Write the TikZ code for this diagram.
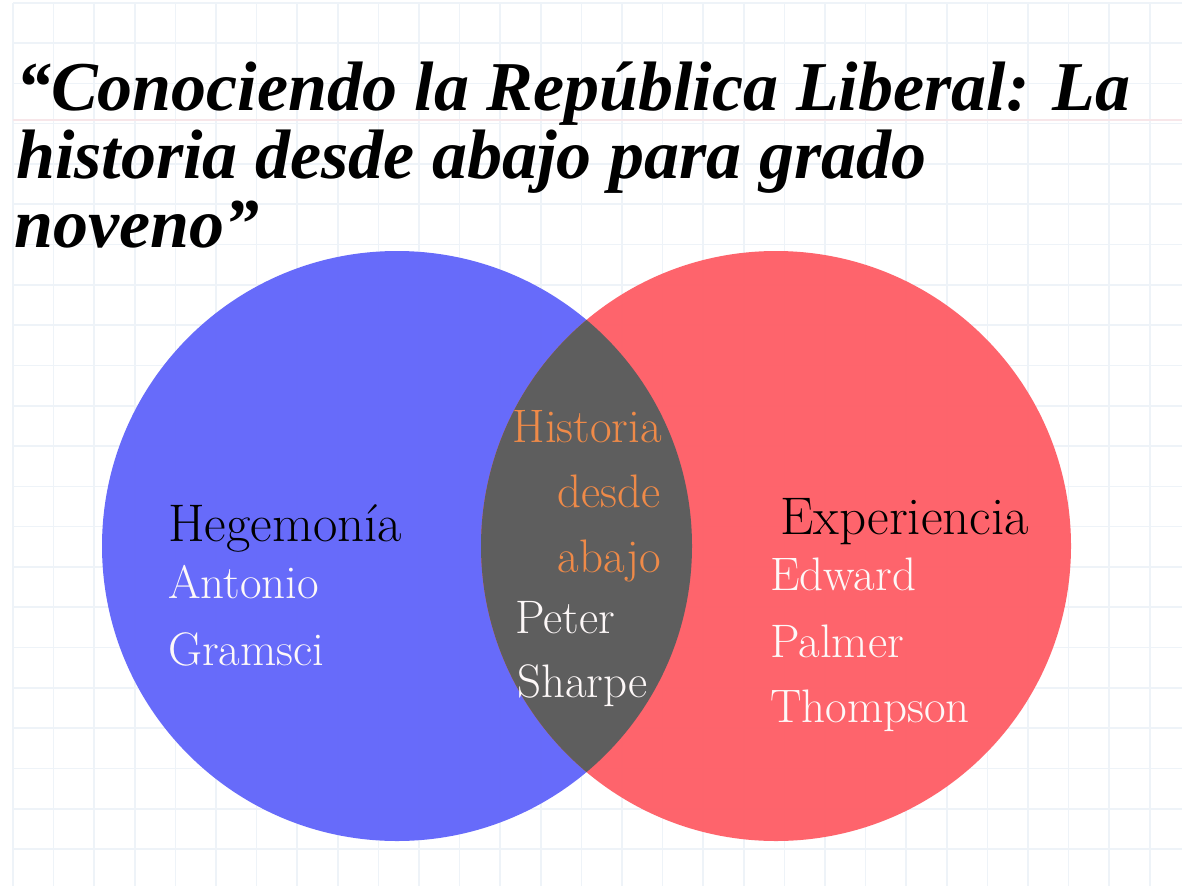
\documentclass[tikz,border=0pt]{standalone}
\usepackage{fontspec}
\newfontfamily\titlefont{Liberation Serif}
\usetikzlibrary{positioning}

\definecolor{hegeblue}{HTML}{6367FA}
\definecolor{expered}{HTML}{FE6068}
\definecolor{lensgray}{HTML}{5E5E5E}
\definecolor{abajoorange}{HTML}{EF8A48}
\definecolor{gridblue}{HTML}{EEF3F8}
\definecolor{gridpink}{HTML}{F7E6E9}
\definecolor{namewhite}{HTML}{FDF8F8}

\tikzset{
  gridline/.style={gridblue,line width=1.6pt},
  titleline/.style={anchor=base west,inner sep=0pt,
    font=\titlefont\bfseries\itshape\fontsize{70}{70}\selectfont},
  heading/.style={anchor=base west,inner sep=0pt,text=black,
    font=\fontsize{53}{53}\selectfont\addfontfeatures{FakeBold=1.2}},
  author/.style={anchor=base west,inner sep=0pt,text=namewhite,
    font=\fontsize{47}{47}\selectfont\addfontfeatures{FakeBold=1.2}},
  lenstext/.style={anchor=base east,inner sep=0pt,text=abajoorange,
    font=\fontsize{47}{47}\selectfont\addfontfeatures{FakeBold=1.2}}
}

\begin{document}
\begin{tikzpicture}[x=1pt,y=-1pt]
\useasboundingbox (0,0) rectangle (1182,886);
\fill[white] (0,0) rectangle (1182,886);

% graph paper
\foreach \gx in {0,...,28}
  \draw[gridline] ({13+40.6*\gx},3) -- ({13+40.6*\gx},886);
\foreach \gy in {-1,0,...,20}
  \draw[gridline] (13,{43+40.3*\gy}) -- (1182,{43+40.3*\gy});
\draw[gridpink,line width=1.6pt] (13,120) -- (1182,120);

% title
\node[titleline] (tl1) at (16,110) {“Conociendo la República Liberal: La};
\node[titleline] (tl2) at (16,178) {historia desde abajo para grado};
\node[titleline] (tl3) at (14,247) {noveno”};

% circles
\coordinate (hege) at (397,546);
\coordinate (expe) at (776,546);
\fill[hegeblue,fill opacity=0.97] (hege) circle (295);
\fill[expered,fill opacity=0.97] (expe) circle (295);
\begin{scope}
  \clip (hege) circle (295);
  \fill[lensgray] (expe) circle (295);
\end{scope}

% left
\node[heading] (hegemonia) at (168,541) {Hegemonía};
\node[author] (antonio) at (168,598) {Antonio};
\node[author] (gramsci) at (168,665) {Gramsci};

% right
\node[heading] (experiencia) at (780,534) {Experiencia};
\node[author] (edward) at (770,590) {Edward};
\node[author] (palmer) at (770,657) {Palmer};
\node[author] (thompson) at (770,722) {Thompson};

% middle
\node[lenstext] (historia) at (662,442) {Historia};
\node[lenstext] (desde) at (661,507) {desde};
\node[lenstext] (abajo) at (661,572) {abajo};
\node[author] (peter) at (515,633) {Peter};
\node[author] (sharpe) at (517,697) {Sharpe};
\end{tikzpicture}
\end{document}
